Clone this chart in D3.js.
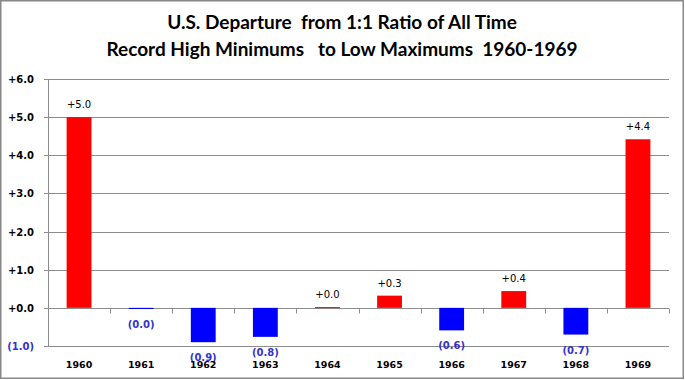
<!DOCTYPE html>
<html><head><meta charset="utf-8">
<script src="https://cdn.jsdelivr.net/npm/d3@7"></script>
<style>body{margin:0;background:#fff}svg{display:block}</style>
</head><body><svg id="c" width="685" height="380"></svg>
<script>
const years = ["1960","1961","1962","1963","1964","1965","1966","1967","1968","1969"];
const values = [5.0, -0.03, -0.9, -0.76, 0.02, 0.32, -0.59, 0.44, -0.70, 4.42];
const valueLabels = ["+5.0","(0.0)","(0.9)","(0.8)","+0.0","+0.3","(0.6)","+0.4","(0.7)","+4.4"];
const yTicks = [-1,0,1,2,3,4,5,6];
const yTickLabels = ["(1.0)","+0.0","+1.0","+2.0","+3.0","+4.0","+5.0","+6.0"];
const titleLines = ["U.S. Departure  from 1:1 Ratio of All Time","Record High Minimums   to Low Maximums  1960-1969"];

const svg = d3.select("#c");
svg.append("rect").attr("x",0.75).attr("y",0.75).attr("width",682.5).attr("height",377.5)
  .attr("fill","#fff").attr("stroke","#888").attr("stroke-width",1.5);

const L=48, R=669, T=79, B=346;
const x = d3.scaleBand().domain(years).range([L,R]).paddingInner(0.6).paddingOuter(0.3);
const xb = d3.scaleBand().domain(years).range([L,R]);
const y = d3.scaleLinear().domain([-1,6]).range([B,T]);

// gridlines
svg.append("g").selectAll("line").data(yTicks).join("line")
  .attr("x1",L-4).attr("x2",R).attr("y1",d=>Math.round(y(d))+0.5).attr("y2",d=>Math.round(y(d))+0.5)
  .attr("stroke","#8c8c8c").attr("stroke-width",1);
// left axis
svg.append("line").attr("x1",L+0.5).attr("x2",L+0.5).attr("y1",T).attr("y2",B+1).attr("stroke","#8c8c8c");
// category ticks on zero line
const y0 = Math.round(y(0))+0.5;
svg.append("g").selectAll("line").data(years.slice(1).concat(["end"])).join("line")
  .attr("x1",(d,i)=>Math.round(i<9?xb(d):R)+0.5).attr("x2",(d,i)=>Math.round(i<9?xb(d):R)+0.5)
  .attr("y1",y0).attr("y2",y0+5).attr("stroke","#8c8c8c");

// y labels
svg.append("g").selectAll("text").data(yTicks).join("text")
  .attr("x",34).attr("y",d=>y(d)+4).attr("text-anchor","end")
  .attr("font-family","Verdana, 'DejaVu Sans', sans-serif").attr("font-weight","bold").attr("font-size",10)
  .attr("fill",d=>d<0?"#3333cc":"#000").text((d,i)=>yTickLabels[i]);

// bars
svg.append("g").selectAll("rect").data(values).join("rect")
  .attr("x",(d,i)=>x(years[i])).attr("width",x.bandwidth())
  .attr("y",d=>y(Math.max(0,d))).attr("height",d=>Math.max(1,Math.abs(y(d)-y(0))))
  .attr("fill",d=>d>=0?"#ff0000":"#0000ff");

// value labels
svg.append("g").selectAll("text").data(values).join("text")
  .attr("x",(d,i)=>x(years[i])+x.bandwidth()/2)
  .attr("y",d=>d>=0?y(d)-9:y(d)+19)
  .attr("text-anchor","middle")
  .attr("font-family","Verdana, 'DejaVu Sans', sans-serif").attr("font-size",10)
  .attr("font-weight",d=>d>=0?"normal":"bold")
  .attr("fill",d=>d>=0?"#000":"#3333cc").text((d,i)=>valueLabels[i]);

// x labels
svg.append("g").selectAll("text").data(years).join("text")
  .attr("x",d=>xb(d)+xb.bandwidth()/2).attr("y",368).attr("text-anchor","middle")
  .attr("font-family","Verdana, 'DejaVu Sans', sans-serif").attr("font-weight","bold").attr("font-size",9.5)
  .attr("fill","#000").text(d=>d);

// title
svg.append("g").selectAll("text").data(titleLines).join("text")
  .attr("x",342).attr("y",(d,i)=>29+i*27).attr("text-anchor","middle")
  .attr("font-family","Lato, 'Open Sans', sans-serif").attr("font-weight","bold").attr("font-size",19)
  .attr("xml:space","preserve").style("white-space","pre")
  .attr("fill","#000").text(d=>d);
</script></body></html>
